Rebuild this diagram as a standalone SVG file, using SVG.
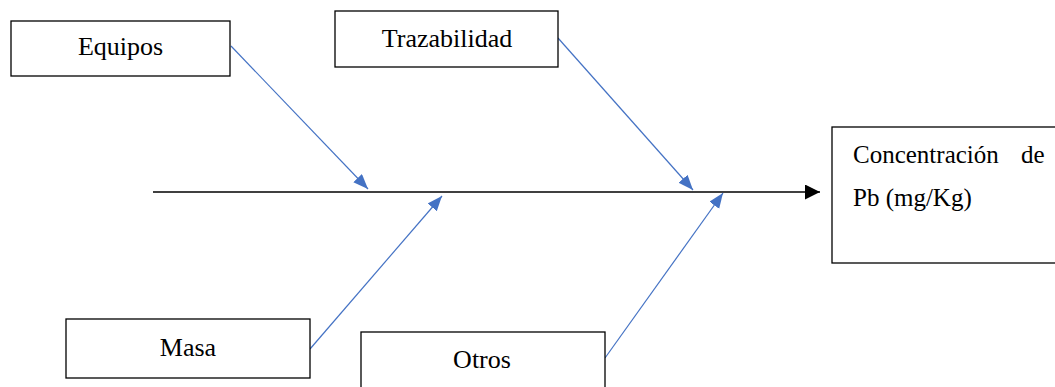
<svg xmlns="http://www.w3.org/2000/svg" width="1055" height="387" viewBox="0 0 1055 387">
<style>
.box{fill:#fff;stroke:#000;stroke-width:1.3}
.lbl{font-family:"Liberation Serif","Times New Roman",serif;font-size:26px;fill:#000}
.blue{stroke:#4472C4;stroke-width:1.2;fill:none}
.main{stroke:#000;stroke-width:1.5;fill:none}
</style>
<defs>
<marker id="ab" markerUnits="userSpaceOnUse" markerWidth="16" markerHeight="14" refX="15" refY="6" orient="auto">
<path d="M0,0 L15,6 L0,12 Z" fill="#4472C4"/>
</marker>
<marker id="ak" markerUnits="userSpaceOnUse" markerWidth="16" markerHeight="16" refX="15" refY="7.5" orient="auto">
<path d="M0,0 L15,7.5 L0,15 Z" fill="#000"/>
</marker>
</defs>
<rect width="1055" height="387" fill="#fff"/>
<g id="connectors">
<line class="main" x1="153" y1="192" x2="820" y2="192" marker-end="url(#ak)"/>
<line class="blue" x1="231" y1="46" x2="368" y2="189" marker-end="url(#ab)"/>
<line class="blue" x1="558" y1="38" x2="693" y2="190" marker-end="url(#ab)"/>
<line class="blue" x1="310" y1="349" x2="442" y2="196" marker-end="url(#ab)"/>
<line class="blue" x1="605" y1="358" x2="723" y2="193" marker-end="url(#ab)"/>
</g>
<g id="equipos">
<rect class="box" x="11" y="21" width="219" height="55"/>
<text class="lbl" x="120.5" y="55" text-anchor="middle">Equipos</text>
</g>
<g id="trazabilidad">
<rect class="box" x="335" y="11" width="223" height="56"/>
<text class="lbl" x="447" y="47" text-anchor="middle">Trazabilidad</text>
</g>
<g id="masa">
<rect class="box" x="66" y="319" width="244" height="59"/>
<text class="lbl" x="188" y="356" text-anchor="middle">Masa</text>
</g>
<g id="otros">
<rect class="box" x="361" y="332" width="244" height="70"/>
<text class="lbl" x="482" y="368" text-anchor="middle">Otros</text>
</g>
<g id="resultado">
<rect class="box" x="832" y="127" width="240" height="136"/>
<text class="lbl" x="853" y="163" style="font-size:25px">Concentración</text>
<text class="lbl" x="1021" y="163" style="font-size:25px">de</text>
<text class="lbl" x="853" y="206" style="font-size:25px">Pb (mg/Kg)</text>
</g>
</svg>
